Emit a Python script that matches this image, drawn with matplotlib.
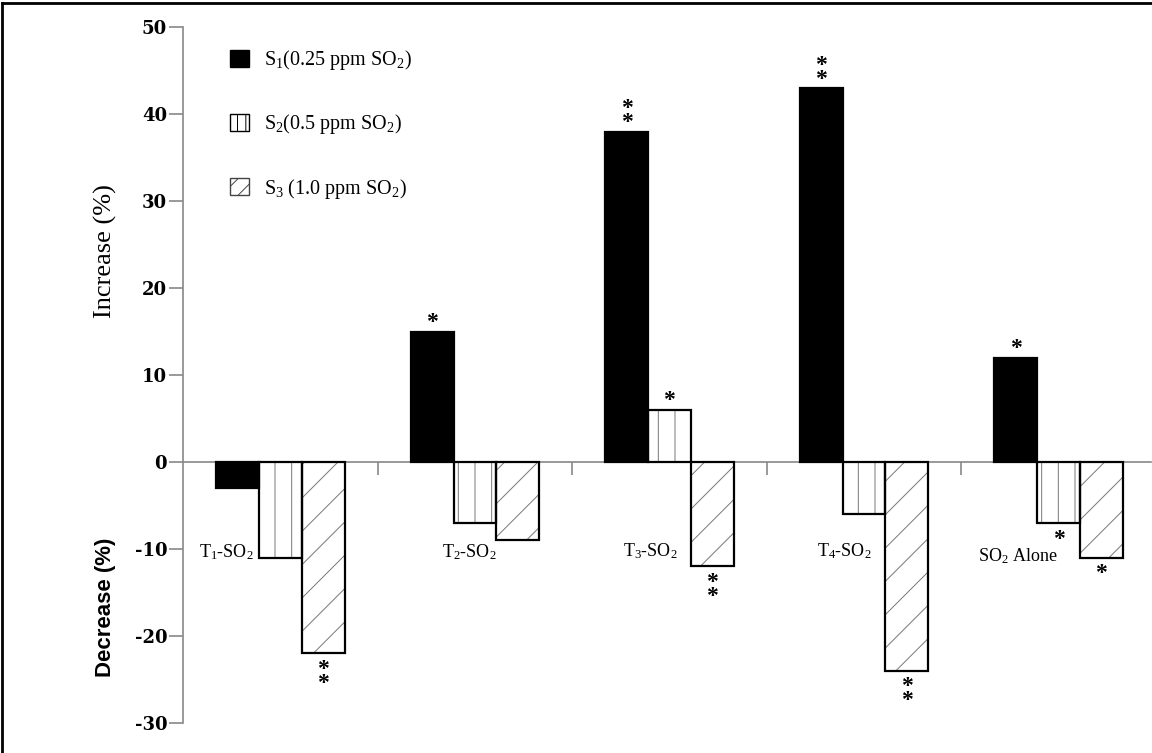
import matplotlib
matplotlib.use("Agg")
import matplotlib.pyplot as plt
import numpy as np
from matplotlib.patches import Patch
from matplotlib.lines import Line2D

plt.rcParams['mathtext.fontset'] = 'custom'
plt.rcParams['mathtext.rm'] = 'Liberation Serif'
plt.rcParams['mathtext.it'] = 'Liberation Serif:italic'
plt.rcParams['hatch.linewidth'] = 0.7

# data
groups = [r"T$_1$-SO$_2$", r"T$_2$-SO$_2$", r"T$_3$-SO$_2$", r"T$_4$-SO$_2$", r"SO$_2$ Alone"]
series = [r"S$_1$(0.25 ppm SO$_2$)", r"S$_2$(0.5 ppm SO$_2$)", r"S$_3$ (1.0 ppm SO$_2$)"]
s1 = [-3, 15, 38, 43, 12]
s2 = [-11, -7, 6, -6, -7]
s3 = [-22, -9, -12, -24, -11]
sig1 = ["", "*", "**", "**", "*"]
sig2 = ["", "", "*", "", "*"]
sig3 = ["**", "", "**", "**", "*"]
yticks = [-30, -20, -10, 0, 10, 20, 30, 40, 50]

# label placement tweaks (x shift from group centre, y value)
lab_dx = [-0.28, -0.03, -0.10, -0.10, -0.21]
lab_y = [-10.3, -10.3, -10.2, -10.2, -10.8]

fig = plt.figure(figsize=(11.52, 7.53), dpi=100)
ax = fig.add_axes([0.159, 0.0398, 0.840, 0.924])

x = np.arange(len(groups))
w = 0.22
vals = [s1, s2, s3]
sigs = [sig1, sig2, sig3]
hatches = [None, "|", "/"]

for k in range(3):
    pos = x + (k - 1) * w
    if hatches[k]:
        ax.bar(pos, vals[k], w, color="white", edgecolor="#777777", linewidth=0,
               hatch=hatches[k], zorder=2)
        ax.bar(pos, vals[k], w, fill=False, edgecolor="black", linewidth=1.6, zorder=3)
    else:
        ax.bar(pos, vals[k], w, color="black", edgecolor="black", linewidth=1.6, zorder=3)
    for p, v, s in zip(pos, vals[k], sigs[k]):
        if not s:
            continue
        txt = "\n".join(list(s))
        if v > 0:
            ax.annotate(txt, (p, v), xytext=(0, -1), textcoords="offset points",
                        ha="center", va="bottom", fontsize=17, linespacing=0.55,
                        family="Liberation Serif", fontweight="bold")
        else:
            ax.annotate(txt, (p, v), xytext=(0, -4), textcoords="offset points",
                        ha="center", va="top", fontsize=17, linespacing=0.55,
                        family="Liberation Serif", fontweight="bold")

for i, g in enumerate(groups):
    ax.text(x[i] + lab_dx[i], lab_y[i], g, ha="center", va="center",
            fontsize=13, family="Liberation Serif")

ax.set_xlim(-0.5, 4.475)
ax.set_ylim(-30, 50)
ax.set_yticks(yticks)
ax.set_yticklabels([str(t) for t in yticks], family="DejaVu Serif",
                   fontweight="bold", fontsize=13)
ax.set_xticks(x[:-1] + 0.5)
ax.set_xticklabels([])

for s in ["top", "right"]:
    ax.spines[s].set_visible(False)
ax.spines["left"].set_color("#888888")
ax.spines["left"].set_linewidth(1.2)
ax.spines["bottom"].set_position(("data", 0))
ax.spines["bottom"].set_color("#888888")
ax.spines["bottom"].set_linewidth(1.2)
ax.spines["bottom"].set_zorder(1)
ax.tick_params(axis="y", length=10, width=1.2, color="#888888", pad=1.5)
ax.tick_params(axis="x", length=9, width=1.2, color="#888888", direction="out")

tr = ax.get_yaxis_transform()
ax.text(-0.080, 24.3, "Increase (%)", transform=tr, rotation=90, ha="center",
        va="center", fontsize=19, family="Liberation Serif")
ax.text(-0.080, -16.7, "Decrease (%)", transform=tr, rotation=90, ha="center",
        va="center", fontsize=16, family="Liberation Sans", fontweight="bold")

handles = [Patch(facecolor="black", edgecolor="black"),
           Patch(facecolor="white", edgecolor="black", hatch="||"),
           Patch(facecolor="white", edgecolor="#444444", hatch="//")]
leg = ax.legend(handles, series, loc="upper left", bbox_to_anchor=(0.048, 0.97),
                frameon=False, borderaxespad=0, borderpad=0, handlelength=0.95,
                handleheight=0.95, handletextpad=0.75, labelspacing=2.0,
                prop={"family": "Liberation Serif", "size": 14.5})

# outer frame of the original figure
fig.add_artist(Line2D([0.002, 1], [0.996, 0.996], transform=fig.transFigure,
                      color="black", lw=2))
fig.add_artist(Line2D([0.002, 0.002], [0, 0.996], transform=fig.transFigure,
                      color="black", lw=2))

fig.savefig("out.png", dpi=100)
